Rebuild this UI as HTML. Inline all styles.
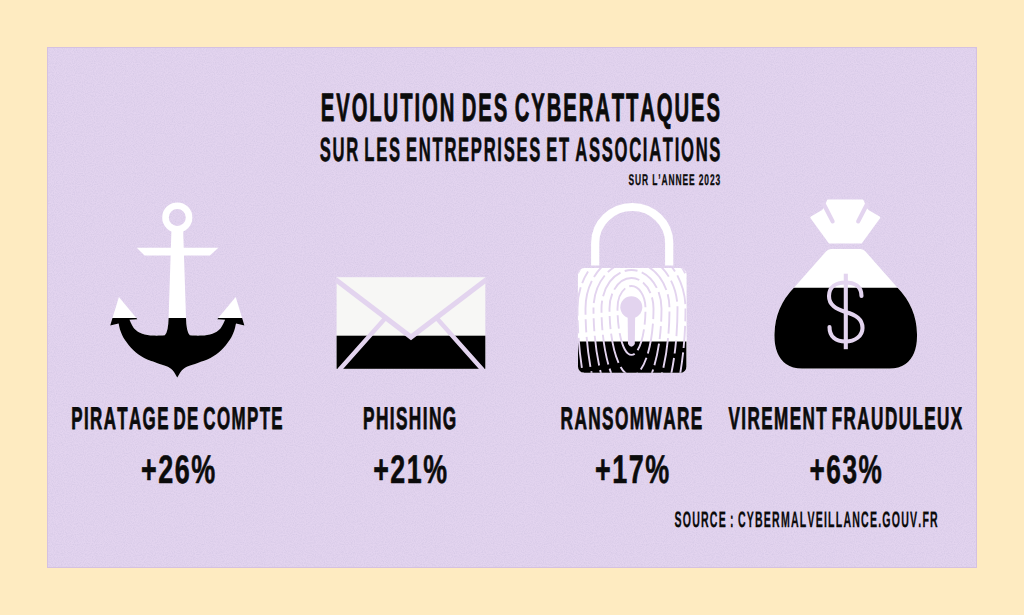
<!DOCTYPE html>
<html><head><meta charset="utf-8">
<style>
html,body{margin:0;padding:0;background:#FEEBC1;width:1024px;height:615px;overflow:hidden;}
svg{display:block;position:absolute;left:0;top:0;}
text{font-family:"Liberation Sans",sans-serif;font-weight:bold;fill:#0b0b0b;font-kerning:none;text-rendering:geometricPrecision;}
</style></head>
<body>
<svg width="1024" height="615" viewBox="0 0 1024 615">
<defs>
  <clipPath id="anchorBot"><rect x="0" y="318" width="1024" height="100"/></clipPath>
  <clipPath id="envBot"><rect x="0" y="335.7" width="1024" height="100"/></clipPath>
  <clipPath id="lockBody"><rect x="577.9" y="268" width="108.7" height="104.8" rx="6.5"/></clipPath>
  <clipPath id="lockBot"><rect x="0" y="342" width="1024" height="100"/></clipPath>
  <clipPath id="bagBot"><rect x="0" y="287.8" width="1024" height="100"/></clipPath>
  <path id="anc" d="M171.5 228 L168.6 318 Q168.3 332 164.8 335.2 L162.5 335.6 C160.92 335.60 156.38 335.92 153.00 335.60 C149.62 335.28 145.30 334.83 142.20 333.70 C139.10 332.57 136.52 331.12 134.40 328.80 C132.28 326.48 130.32 321.30 129.50 319.80 L137.4 319.3 L118.9 296.9 L110.2 325.4 L118.6 323.5 C118.92 324.75 119.50 328.33 120.50 331.00 C121.50 333.67 122.45 336.30 124.60 339.50 C126.75 342.70 130.15 347.12 133.40 350.20 C136.65 353.28 140.20 355.88 144.10 358.00 C148.00 360.12 153.07 361.52 156.80 362.90 C160.53 364.28 163.87 365.08 166.50 366.30 C169.13 367.52 170.80 368.32 172.60 370.20 C174.40 372.08 176.52 376.37 177.30 377.60 C178.08 376.37 180.20 372.08 182.00 370.20 C183.80 368.32 185.47 367.52 188.10 366.30 C190.73 365.08 194.07 364.28 197.80 362.90 C201.53 361.52 206.60 360.12 210.50 358.00 C214.40 355.88 217.95 353.28 221.20 350.20 C224.45 347.12 227.85 342.70 230.00 339.50 C232.15 336.30 233.10 333.67 234.10 331.00 C235.10 328.33 235.68 324.75 236.00 323.50 L244.4 325.4 L235.7 296.9 L217.2 319.3 L225.1 319.8 C224.28 321.30 222.32 326.48 220.20 328.80 C218.08 331.12 215.50 332.57 212.40 333.70 C209.30 334.83 204.98 335.28 201.60 335.60 C198.22 335.92 193.68 335.60 192.10 335.60 L189.8 335.2 Q186.3 332 186 318 L183.1 228 Z"/>
  <path id="bag" d="M831 249 L860.5 249 Q863.5 249 865.5 251.5 L897.1 287.3 Q916.5 307 917 334 Q917.5 355 905.5 364 Q899 368.6 889.5 368.6 L802 368.6 Q792.5 368.6 786 364 Q774 355 774.5 334 Q775 307 794.4 287.3 L826 251.5 Q828 249 831 249 Z"/>
  <filter id="grain" x="0" y="0" width="100%" height="100%">
    <feTurbulence type="fractalNoise" baseFrequency="0.9" numOctaves="2" seed="3" result="n"/>
    <feColorMatrix in="n" type="matrix" values="0 0 0 0 0.50  0 0 0 0 0.45  0 0 0 0 0.66  0 0 0 -1.6 1.05"/>
  </filter>
</defs>
<rect x="47" y="47" width="930" height="521" fill="#E3D4EF"/>
<rect x="47" y="47" width="930" height="521" fill="#fff" filter="url(#grain)" opacity="0.35"/>
<rect x="47.5" y="47.5" width="929" height="520" fill="none" stroke="#D5C1E1" stroke-width="1"/>

<!-- anchor -->
<g id="anchor">
  <circle cx="177.3" cy="217.5" r="11.8" fill="none" stroke="#fff" stroke-width="6.6"/>
  <path d="M136.7 247.7 L218.4 247.7 L209.9 255.6 L144.6 255.6 Z" fill="#fff"/>
  <use href="#anc" fill="#fff"/>
  <use href="#anc" fill="#000" clip-path="url(#anchorBot)"/>
</g>

<!-- envelope -->
<g>
  <rect x="336.6" y="277.2" width="148.7" height="91.6" fill="#F7F7F5"/>
  <rect x="336.6" y="335.7" width="148.7" height="33.1" fill="#000"/>
  <path d="M335.5 279.5 L411 337 L486.5 279.5" fill="none" stroke="#E3D4EF" stroke-width="5"/>
  <path d="M339.2 370 L385 318.5 M482.8 370 L437 318.5" fill="none" stroke="#E3D4EF" stroke-width="4.4"/>
</g>

<!-- lock -->
<g>
  <path d="M595.2 265.5 L595.2 243 A37 36 0 0 1 669.2 243 L669.2 265.5" fill="none" stroke="#fff" stroke-width="8.2"/>
  <rect x="577.9" y="268" width="108.7" height="104.8" rx="6.5" fill="#fff"/>
  <rect x="577.9" y="341.5" width="108.7" height="32" fill="#000" clip-path="url(#lockBody)"/>
  <g clip-path="url(#lockBody)" fill="none" stroke="#E3D4EF" stroke-width="1.9" stroke-dasharray="22 4.5 30 4.5 13 4.5">
    <path stroke-dashoffset="0" d="M617.5 308.5 A14 22.5 0 0 1 645.5 308.5 A14 46.4 0 0 1 617.5 308.5 Z"/>
    <path stroke-dashoffset="7" d="M609.5 308.5 A22 30.5 0 0 1 653.5 308.5 A22 67.2 0 0 1 609.5 308.5 Z"/>
    <path stroke-dashoffset="14" d="M601.5 308.5 A30 38.5 0 0 1 661.5 308.5 A30 88.0 0 0 1 601.5 308.5 Z"/>
    <path stroke-dashoffset="21" d="M593.5 308.5 A38 46.5 0 0 1 669.5 308.5 A38 108.8 0 0 1 593.5 308.5 Z"/>
    <path stroke-dashoffset="28" d="M585.5 308.5 A46 54.5 0 0 1 677.5 308.5 A46 129.6 0 0 1 585.5 308.5 Z"/>
    <path stroke-dashoffset="35" d="M577.5 308.5 A54 62.5 0 0 1 685.5 308.5 A54 150.4 0 0 1 577.5 308.5 Z"/>
    <path stroke-dashoffset="42" d="M569.5 308.5 A62 70.5 0 0 1 693.5 308.5 A62 171.2 0 0 1 569.5 308.5 Z"/>
    <path stroke-dashoffset="49" d="M561.5 308.5 A70 78.5 0 0 1 701.5 308.5 A70 192.0 0 0 1 561.5 308.5 Z"/>
  </g>
  <circle cx="631.3" cy="307.3" r="11" fill="#E3D4EF"/>
  <path d="M627.6 312 L635.2 312 L634.8 344 Q631.4 349.5 628 344 Z" fill="#E3D4EF"/>
</g>

<!-- money bag -->
<g>
  <path d="M828.2 200.8 L862.4 200.8 L865.3 208 L867.8 211 L879 217.6 L861 242.2 L829.6 242.2 L811.6 217.6 L822.8 211 L825.3 208 Z" fill="#fff" stroke="#fff" stroke-width="2.6" stroke-linejoin="round"/>
  <path d="M823.8 204.2 L832.6 221.4 M867 204.2 L858.2 221.4" stroke="#E3D4EF" stroke-width="4.2" stroke-linecap="round"/>
  <use href="#bag" fill="#fff"/>
  <use href="#bag" fill="#000" clip-path="url(#bagBot)"/>
  <path d="M845.8 273.7 L845.8 349.2" stroke="#E3D4EF" stroke-width="4.1"/>
  <path d="M861.5 296 C861.5 286 854 282.5 845.5 282.5 C836 282.5 829 287 829 296 C829 305 836 309 845.5 312 C856 315 862.5 319 862.5 328 C862.5 336 855 341.5 845.5 341.5 C836 341.5 829.5 337 829.5 327" fill="none" stroke="#E3D4EF" stroke-width="4.1" stroke-linecap="round"/>
</g>


<text transform="translate(0 120.85) scale(0.5131 1)" x="625.19" y="0" font-size="39.54" letter-spacing="3.703" word-spacing="-3.898" stroke="#0b0b0b" stroke-width="0.90" stroke-linejoin="round">EVOLUTION DES CYBERATTAQUES</text>
<text transform="translate(0 160.90) scale(0.4927 1)" x="649.17" y="0" font-size="33.72" letter-spacing="3.450" word-spacing="-4.059" stroke="#0b0b0b" stroke-width="0.60" stroke-linejoin="round">SUR LES ENTREPRISES ET ASSOCIATIONS</text>
<text transform="translate(0 184.85) scale(0.5424 1)" x="1158.70" y="0" font-size="15.55" letter-spacing="1.659" stroke="#0b0b0b" stroke-width="0.30" stroke-linejoin="round">SUR L’ANNEE 2023</text>
<text transform="translate(0 428.80) scale(0.5410 1)" x="131.77" y="0" font-size="31.25" letter-spacing="2.588" word-spacing="-4.621" stroke="#0b0b0b" stroke-width="0.80" stroke-linejoin="round">PIRATAGE DE COMPTE</text>
<text transform="translate(0 428.80) scale(0.5520 1)" x="657.59" y="0" font-size="31.25" letter-spacing="2.536" word-spacing="-4.529" stroke="#0b0b0b" stroke-width="0.80" stroke-linejoin="round">PHISHING</text>
<text transform="translate(0 428.80) scale(0.5508 1)" x="1017.77" y="0" font-size="31.25" letter-spacing="2.542" word-spacing="-4.539" stroke="#0b0b0b" stroke-width="0.80" stroke-linejoin="round">RANSOMWARE</text>
<text transform="translate(0 428.80) scale(0.5473 1)" x="1331.18" y="0" font-size="31.25" letter-spacing="2.558" word-spacing="-4.568" stroke="#0b0b0b" stroke-width="0.80" stroke-linejoin="round">VIREMENT FRAUDULEUX</text>
<text transform="translate(0 483.30) scale(0.6763 1)" x="208.60" y="0" font-size="39.83" letter-spacing="2.218" stroke="#0b0b0b" stroke-width="0.60" stroke-linejoin="round">+26%</text>
<text transform="translate(0 483.30) scale(0.6733 1)" x="554.25" y="0" font-size="39.83" letter-spacing="2.228" stroke="#0b0b0b" stroke-width="0.60" stroke-linejoin="round">+21%</text>
<text transform="translate(0 483.30) scale(0.6763 1)" x="879.92" y="0" font-size="39.83" letter-spacing="2.218" stroke="#0b0b0b" stroke-width="0.60" stroke-linejoin="round">+17%</text>
<text transform="translate(0 483.30) scale(0.6584 1)" x="1229.59" y="0" font-size="39.83" letter-spacing="2.278" stroke="#0b0b0b" stroke-width="0.60" stroke-linejoin="round">+63%</text>
<text transform="translate(0 527.35) scale(0.4755 1)" x="1418.55" y="0" font-size="22.24" letter-spacing="2.524" word-spacing="-2.103" stroke="#0b0b0b" stroke-width="0.30" stroke-linejoin="round">SOURCE : CYBERMALVEILLANCE.GOUV.FR</text>
</svg>
</body></html>
